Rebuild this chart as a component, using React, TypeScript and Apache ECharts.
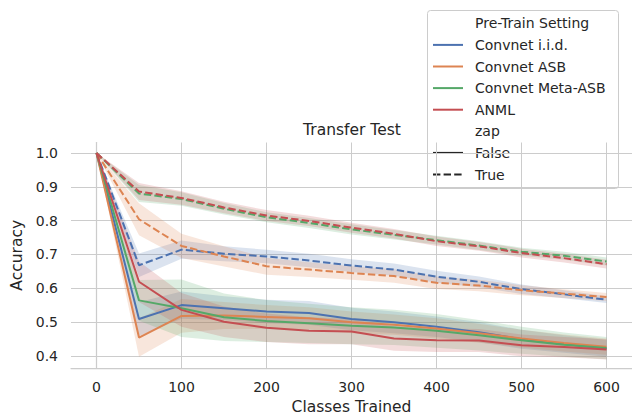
import React, { useEffect, useRef } from "react";
import * as echarts from "echarts";

// ---------- data ----------
const classesTrained = [0, 50, 100, 150, 200, 250, 300, 350, 400, 450, 500, 550, 600];
const settings = ["Convnet i.i.d.", "Convnet ASB", "Convnet Meta-ASB", "ANML"];
const settingColors = ["#4c72b0", "#dd8452", "#55a868", "#c44e52"];
const zapLevels = ["False", "True"];

// zap = False (solid)
const iidFalse = [1.0, 0.509, 0.55, 0.541, 0.531, 0.527, 0.509, 0.499, 0.486, 0.47, 0.449, 0.435, 0.422];
const asbFalse = [1.0, 0.454, 0.518, 0.519, 0.515, 0.511, 0.499, 0.492, 0.481, 0.467, 0.451, 0.438, 0.427];
const metaFalse = [1.0, 0.564, 0.541, 0.514, 0.503, 0.496, 0.489, 0.484, 0.474, 0.461, 0.446, 0.433, 0.423];
const anmlFalse = [1.0, 0.619, 0.536, 0.501, 0.483, 0.474, 0.472, 0.451, 0.446, 0.445, 0.431, 0.426, 0.419];
// zap = True (dashed)
const iidTrue = [1.0, 0.668, 0.714, 0.702, 0.694, 0.682, 0.667, 0.655, 0.634, 0.619, 0.597, 0.582, 0.566];
const asbTrue = [1.0, 0.804, 0.725, 0.694, 0.665, 0.655, 0.645, 0.636, 0.616, 0.608, 0.594, 0.584, 0.574];
const metaTrue = [1.0, 0.88, 0.864, 0.835, 0.81, 0.793, 0.774, 0.758, 0.742, 0.726, 0.708, 0.696, 0.679];
const anmlTrue = [1.0, 0.886, 0.867, 0.839, 0.815, 0.799, 0.779, 0.761, 0.739, 0.724, 0.704, 0.689, 0.671];

// confidence-band half widths
const iidFalseCi = [0, 0.05, 0.04, 0.035, 0.035, 0.035, 0.033, 0.032, 0.03, 0.03, 0.028, 0.026, 0.025];
const asbFalseCi = [0, 0.057, 0.05, 0.04, 0.035, 0.033, 0.032, 0.03, 0.03, 0.028, 0.026, 0.025, 0.024];
const metaFalseCi = [0, 0.06, 0.085, 0.07, 0.062, 0.058, 0.055, 0.052, 0.05, 0.045, 0.04, 0.036, 0.033];
const anmlFalseCi = [0, 0.06, 0.05, 0.045, 0.042, 0.04, 0.038, 0.036, 0.035, 0.034, 0.032, 0.03, 0.03];
const iidTrueCi = [0, 0.035, 0.027, 0.022, 0.02, 0.02, 0.019, 0.018, 0.018, 0.016, 0.014, 0.012, 0.01];
const asbTrueCi = [0, 0.047, 0.036, 0.03, 0.025, 0.022, 0.02, 0.02, 0.018, 0.017, 0.015, 0.013, 0.012];
const metaTrueCi = [0, 0.025, 0.02, 0.017, 0.015, 0.015, 0.015, 0.014, 0.013, 0.013, 0.012, 0.012, 0.012];
const anmlTrueCi = [0, 0.025, 0.02, 0.017, 0.016, 0.015, 0.015, 0.014, 0.014, 0.013, 0.013, 0.013, 0.013];

const meansFalse = [iidFalse, asbFalse, metaFalse, anmlFalse];
const meansTrue = [iidTrue, asbTrue, metaTrue, anmlTrue];
const cisFalse = [iidFalseCi, asbFalseCi, metaFalseCi, anmlFalseCi];
const cisTrue = [iidTrueCi, asbTrueCi, metaTrueCi, anmlTrueCi];

// ---------- style ----------
const FONT = "DejaVu Sans";
const TEXT = "#262626";
const GRID = "#cccccc";
const DASH = [7.4, 3.2];
const LW = 2;

function hexToRgba(hex: string, a: number) {
  const n = parseInt(hex.slice(1), 16);
  return `rgba(${(n >> 16) & 255},${(n >> 8) & 255},${n & 255},${a})`;
}

function bandSeries(name: string, mean: number[], ci: number[], color: string) {
  return {
    type: "custom",
    name,
    silent: true,
    z: 1,
    data: classesTrained.map((x, i) => [x, mean[i] - ci[i], mean[i] + ci[i]]),
    encode: { x: 0, y: [1, 2] },
    renderItem: (params: any, api: any) => {
      if (params.dataIndex !== 0) return undefined;
      const upper = classesTrained.map((x, i) => api.coord([x, mean[i] + ci[i]]));
      const lower = classesTrained.map((x, i) => api.coord([x, mean[i] - ci[i]])).reverse();
      return {
        type: "polygon",
        shape: { points: upper.concat(lower) },
        style: { fill: hexToRgba(color, 0.2), stroke: "none" },
      };
    },
  };
}

function lineSeries(name: string, mean: number[], color: string, dashed: boolean) {
  return {
    type: "line",
    name,
    z: 3,
    symbol: "none",
    showSymbol: false,
    silent: true,
    emphasis: { disabled: true },
    data: classesTrained.map((x, i) => [x, mean[i]]),
    lineStyle: { color, width: LW, type: dashed ? DASH : "solid", cap: "butt" },
  };
}

export default function App() {
  const ref = useRef<HTMLDivElement>(null);
  useEffect(() => {
    if (!ref.current) return;
    const chart = echarts.init(ref.current, null, { renderer: "svg" });

    const bands: any[] = [];
    const lines: any[] = [];
    settings.forEach((s, k) => {
      bands.push(bandSeries(`${s} False band`, meansFalse[k], cisFalse[k], settingColors[k]));
      bands.push(bandSeries(`${s} True band`, meansTrue[k], cisTrue[k], settingColors[k]));
      lines.push(lineSeries(`${s} zap=False`, meansFalse[k], settingColors[k], false));
      lines.push(lineSeries(`${s} zap=True`, meansTrue[k], settingColors[k], true));
    });

    // legend (drawn with graphic)
    const rowY0 = 23.3;
    const rowStep = 21.6;
    const legendRows: { label: string; color?: string; dashed?: boolean }[] = [
      { label: "Pre-Train Setting" },
      ...settings.map((s, k) => ({ label: s, color: settingColors[k] })),
      { label: "zap" },
      ...zapLevels.map((z, k) => ({ label: z, color: TEXT, dashed: k === 1 })),
    ];
    const legendChildren: any[] = [
      {
        type: "rect",
        shape: { x: 427.5, y: 10.5, width: 191, height: 178, r: 3 },
        style: { fill: "rgba(255,255,255,0.8)", stroke: GRID, lineWidth: 1 },
      },
    ];
    legendRows.forEach((r, i) => {
      const y = rowY0 + i * rowStep;
      if (r.color) {
        legendChildren.push({
          type: "line",
          shape: { x1: 433, y1: y, x2: 463, y2: y },
          style: { stroke: r.color, lineWidth: LW, lineDash: r.dashed ? DASH : null },
        });
      }
      legendChildren.push({
        type: "text",
        x: 475,
        y,
        style: {
          text: r.label,
          fill: TEXT,
          fontSize: 14,
          fontFamily: FONT,
          align: "left",
          verticalAlign: "middle",
          textAlign: "left",
          textVerticalAlign: "middle",
        },
      });
    });

    const option: any = {
      animation: false,
      backgroundColor: "#ffffff",
      textStyle: { fontFamily: FONT },
      grid: { left: 71, top: 142.5, width: 563, height: 229.8, containLabel: false },
      xAxis: {
        type: "value",
        min: -30,
        max: 630,
        minInterval: 100,
        maxInterval: 100,
        splitNumber: 6,
        name: "Classes Trained",
        nameLocation: "middle",
        nameGap: 31,
        nameTextStyle: { fontSize: 15.5, color: TEXT, fontFamily: FONT },
        axisLine: { show: true, lineStyle: { color: GRID, width: 1.25 } },
        axisTick: { show: false },
        axisLabel: {
          color: TEXT,
          fontSize: 14,
          fontFamily: FONT,
          margin: 12,
          showMinLabel: false,
          showMaxLabel: false,
        },
        splitLine: { show: true, showMinLine: false, showMaxLine: false, lineStyle: { color: GRID, width: 1 } },
      },
      yAxis: {
        type: "value",
        min: 0.364,
        max: 1.031,
        minInterval: 0.1,
        maxInterval: 0.1,
        splitNumber: 7,
        name: "Accuracy",
        nameLocation: "middle",
        nameGap: 39,
        nameTextStyle: { fontSize: 15.5, color: TEXT, fontFamily: FONT },
        axisLine: { show: true, lineStyle: { color: GRID, width: 1.25 } },
        axisTick: { show: false },
        axisLabel: {
          color: TEXT,
          fontSize: 14,
          fontFamily: FONT,
          margin: 13,
          showMinLabel: false,
          showMaxLabel: false,
          formatter: (v: number) => v.toFixed(1),
        },
        splitLine: { show: true, showMinLine: false, showMaxLine: false, lineStyle: { color: GRID, width: 1 } },
      },
      graphic: [
        {
          type: "text",
          x: 352,
          y: 129.5,
          z: 50,
          style: {
            text: "Transfer Test",
            fill: TEXT,
            fontSize: 15.5,
            fontFamily: FONT,
            align: "center",
            verticalAlign: "middle",
            textAlign: "center",
            textVerticalAlign: "middle",
          },
        },
        { type: "group", z: 100, children: legendChildren },
      ],
      series: [...bands, ...lines],
    };
    chart.setOption(option);
    return () => chart.dispose();
  }, []);
  return (
    <div
      ref={ref}
      style={{ position: "fixed", left: 0, top: 0, width: 632, height: 420, background: "#fff" }}
    />
  );
}
